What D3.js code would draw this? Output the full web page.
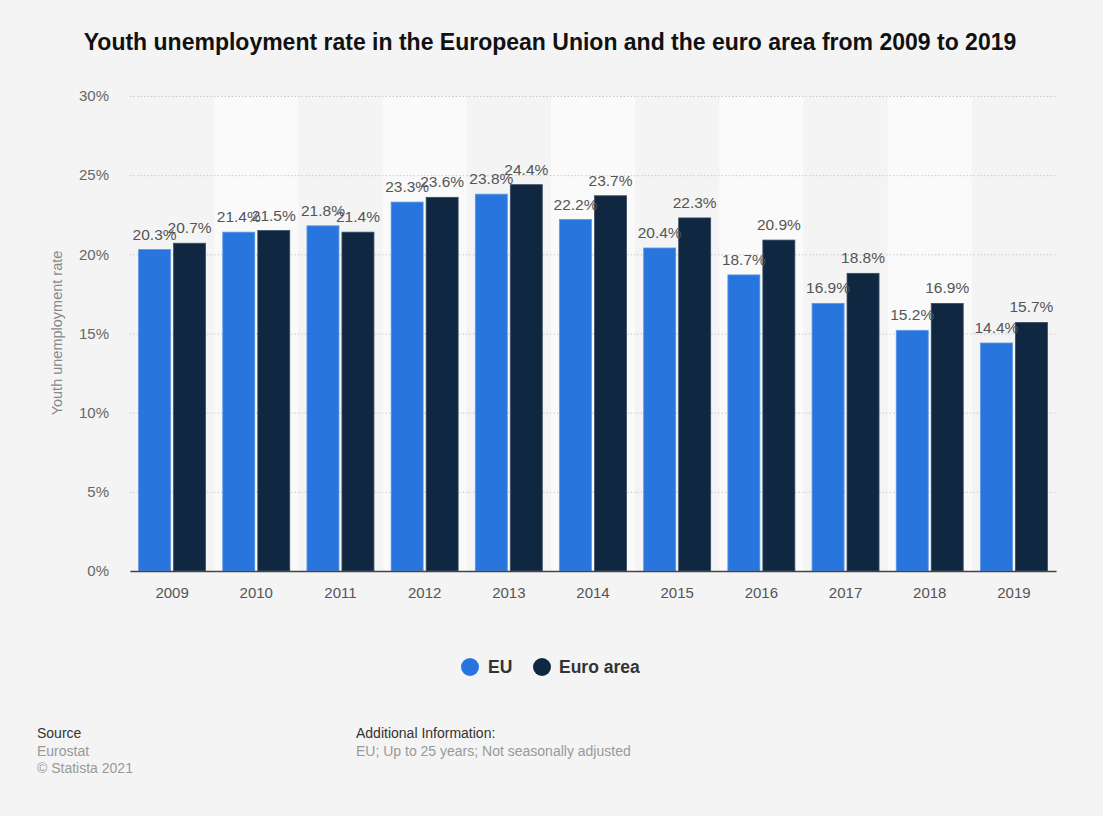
<!DOCTYPE html>
<html><head><meta charset="utf-8">
<script src="https://cdn.jsdelivr.net/npm/d3@7"></script>
<style>
html,body{margin:0;padding:0;background:#f4f4f4;}
svg{display:block;font-family:"Liberation Sans",Arial,sans-serif;}
</style></head>
<body>
<svg id="chart" width="1103" height="816"></svg>
<script>
const years = ["2009","2010","2011","2012","2013","2014","2015","2016","2017","2018","2019"];
const seriesNames = ["EU","Euro area"];
const euValues = [20.3,21.4,21.8,23.3,23.8,22.2,20.4,18.7,16.9,15.2,14.4];
const euroAreaValues = [20.7,21.5,21.4,23.6,24.4,23.7,22.3,20.9,18.8,16.9,15.7];
const yTicks = [0,5,10,15,20,25,30];
const colors = ["#2876dd","#0f2740"];

(function(){
const svg = d3.select("#chart");
const W = 1103, H = 816;
const pL = 130, pR = 1056, pT = 96, pB = 571;

svg.append("rect").attr("width",W).attr("height",H).attr("fill","#f4f4f4");

const x0 = d3.scaleBand().domain(years).range([pL,pR]).padding(0);
const x1 = d3.scaleBand().domain(seriesNames).range([8.6, x0.bandwidth()-8.6]).paddingInner(0.086).paddingOuter(0);
const y = d3.scaleLinear().domain([0,30]).range([pB,pT]);

// stripes
svg.append("g").selectAll("rect").data(years.filter((d,i)=>i%2===1)).join("rect")
  .attr("x",d=>x0(d)).attr("y",pT).attr("width",x0.bandwidth()).attr("height",pB-pT)
  .attr("fill","#fafafa");

// gridlines
const yAxis = d3.axisLeft(y).tickValues(yTicks).tickFormat(d=>d+"%").tickSize(-(pR-pL)).tickPadding(21);
const gy = svg.append("g").attr("transform",`translate(${pL},0)`).call(yAxis);
gy.select(".domain").remove();
gy.selectAll(".tick line").attr("stroke","#c8c8c8").attr("stroke-dasharray","1.5,2").attr("stroke-width",1);
gy.selectAll(".tick text").attr("fill","#666").attr("font-size","15px").attr("font-family","Liberation Sans, Arial, sans-serif");

// bars
const data = years.map((yr,i)=>({year:yr, vals:[{s:"EU",v:euValues[i]},{s:"Euro area",v:euroAreaValues[i]}]}));
const groups = svg.append("g").selectAll("g").data(data).join("g")
  .attr("transform",d=>`translate(${x0(d.year)},0)`);
groups.selectAll("rect").data(d=>d.vals).join("rect")
  .attr("x",d=>x1(d.s)).attr("width",x1.bandwidth())
  .attr("y",d=>y(d.v)).attr("height",d=>pB-y(d.v))
  .attr("fill",(d,i)=>colors[i])
  .attr("stroke",(d,i)=>i===0?"#5b97e6":"#3a4d62").attr("stroke-width",0.8);
groups.selectAll("text").data(d=>d.vals).join("text")
  .attr("x",d=>x1(d.s)+x1.bandwidth()/2).attr("y",d=>y(d.v)-10)
  .attr("text-anchor","middle").attr("font-size","15.5px").attr("fill","#555")
  .text(d=>d.v.toFixed(1)+"%");

// x axis
const xAxis = d3.axisBottom(x0).tickSize(0).tickPadding(16);
const gx = svg.append("g").attr("transform",`translate(0,${pB})`).call(xAxis);
gx.select(".domain").attr("stroke","#444").attr("stroke-width",1.5);
gx.selectAll(".tick text").attr("fill","#555").attr("font-size","15px").attr("font-family","Liberation Sans, Arial, sans-serif");

// y title
svg.append("text").attr("transform","translate(62,333) rotate(-90)")
  .attr("text-anchor","middle").attr("font-size","14.5px").attr("fill","#888")
  .text("Youth unemployment rate");

// title
svg.append("text").attr("x",550).attr("y",50).attr("text-anchor","middle")
  .attr("font-size","23px").attr("font-weight","bold").attr("fill","#111")
  .text("Youth unemployment rate in the European Union and the euro area from 2009 to 2019");

// legend
const legend = [{n:"EU",cx:470,tx:488},{n:"Euro area",cx:542,tx:559}];
legend.forEach((l,i)=>{
  svg.append("circle").attr("cx",l.cx).attr("cy",667).attr("r",9).attr("fill",colors[i]);
  svg.append("text").attr("x",l.tx).attr("y",673).attr("font-size","17.5px").attr("font-weight","bold")
    .attr("fill","#333").text(l.n);
});

// footer
const foot = [
  {t:"Source",x:37,y:738,c:"#333"},
  {t:"Eurostat",x:37,y:756,c:"#999"},
  {t:"© Statista 2021",x:37,y:773,c:"#999"},
  {t:"Additional Information:",x:356,y:738,c:"#333"},
  {t:"EU; Up to 25 years; Not seasonally adjusted",x:356,y:756,c:"#999"}
];
foot.forEach(f=>svg.append("text").attr("x",f.x).attr("y",f.y).attr("font-size","14px").attr("fill",f.c).text(f.t));
})();
</script>
</body></html>
